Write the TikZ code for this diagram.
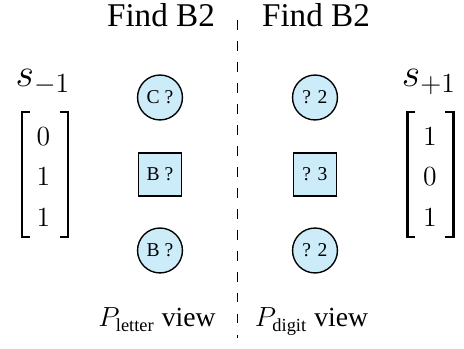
\documentclass[tikz,border=0pt]{standalone}
\usepackage{amsmath}
\usepackage[no-math]{fontspec}
\setmainfont{Liberation Serif}
\usepackage{tikz}
\usetikzlibrary{matrix}
\definecolor{qblue}{RGB}{204,236,250}

\begin{document}
\begin{tikzpicture}[x=0.434pt,y=0.434pt,
            slot/.style={draw,line width=0.6pt,fill=qblue,inner sep=0pt,
                font=\fontsize{8.5}{10}\selectfont},
            qcirc/.style={slot,circle,minimum size=19.5pt},
            qsq/.style={slot,rectangle,minimum size=18.7pt},
            title/.style={font=\Large,anchor=base},
            view/.style={font=\large,anchor=base},
            brak/.style={line width=1.2pt},
            every matrix/.style={row sep=9.6pt,nodes={font=\large,inner sep=0pt,
                text height=8pt,text depth=0pt}}]
            \useasboundingbox (0,0) rectangle (464,349);

            % split between the two views
            \coordinate (top) at (237.3,329);
            \coordinate (bot) at (237.3,11);
            \draw[line width=0.6pt,dash pattern=on 4.3pt off 4.8pt] (top) -- (bot);

            \node[title] (tl) at (161,322) {Find B2};
            \node[title] (tr) at (316,322) {Find B2};

            % letter view
            \node[qcirc] (l1) at (160,251.5) {C ?};
            \node[qsq]   (l2) at (160,174.5) {B ?};
            \node[qcirc] (l3) at (160,98.5)  {B ?};
            % digit view
            \node[qcirc] (d1) at (315,251.5) {? 2};
            \node[qsq]   (d2) at (315,174.5) {? 3};
            \node[qcirc] (d3) at (315,98.5)  {? 2};

            \node[view] (pl) at (157,22) {$P_{\text{letter}}$ view};
            \node[view] (pd) at (311.5,22) {$P_{\text{digit}}$ view};

            % states
            \node[font=\LARGE,anchor=base] (sl) at (43,262) {$s_{-1}$};
            \node[font=\LARGE,anchor=base] (sr) at (429,262) {$s_{+1}$};

            \matrix (vl) [matrix of math nodes] at (43.5,172.5)
            {
                0 \\
                1 \\
                1 \\
            };
            \matrix (vr) [matrix of math nodes] at (430,172.5)
            {
                1 \\
                0 \\
                1 \\
            };

            \foreach \v/\c in {vl/45,vr/430.5} {
                \draw[brak] ([shift={(-15,62.5)}]\c,174.5) -- ++(-8,0) -- ++(0,-125) -- ++(8,0);
                \draw[brak] ([shift={(15,62.5)}]\c,174.5) -- ++(8,0) -- ++(0,-125) -- ++(-8,0);
            }

        \end{tikzpicture}
\end{document}
